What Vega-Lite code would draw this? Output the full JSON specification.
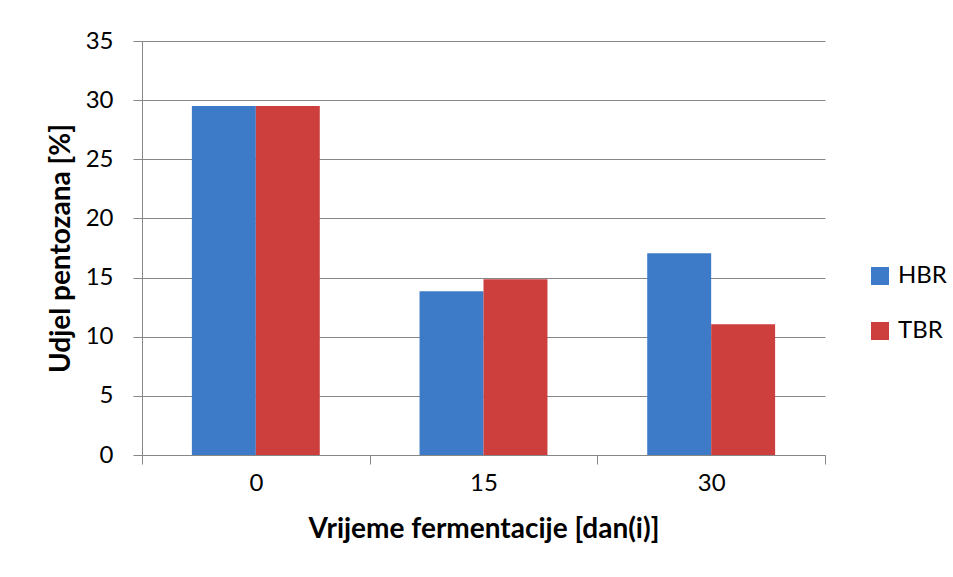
{
  "$schema": "https://vega.github.io/schema/vega-lite/v6.json",
  "width": 683,
  "height": 414,
  "autosize": {"type": "none"},
  "padding": {"left": 142, "top": 41, "right": 128, "bottom": 122},
  "background": "white",
  "config": {"view": {"stroke": null}, "font": "Lato"},
  "data": {
    "values": [
      {"day": "0", "series": "HBR", "value": 29.5},
      {"day": "0", "series": "TBR", "value": 29.5},
      {"day": "15", "series": "HBR", "value": 13.85},
      {"day": "15", "series": "TBR", "value": 14.85},
      {"day": "30", "series": "HBR", "value": 17.05},
      {"day": "30", "series": "TBR", "value": 11.05}
    ]
  },
  "mark": {"type": "bar"},
  "encoding": {
    "x": {
      "field": "day",
      "type": "nominal",
      "sort": ["0", "15", "30"],
      "scale": {"paddingInner": 0, "paddingOuter": 0},
      "axis": {
        "title": "Vrijeme fermentacije [dan(i)]",
        "labelAngle": 0,
        "tickBand": "extent",
        "domainColor": "#868686",
        "tickColor": "#868686",
        "tickSize": 9,
        "labelFontSize": 24,
        "labelPadding": 7,
        "labelColor": "black",
        "titleFontSize": 28,
        "titleFontWeight": "bold",
        "titlePadding": 20,
        "titleColor": "black"
      }
    },
    "xOffset": {
      "field": "series",
      "type": "nominal",
      "sort": ["HBR", "TBR"],
      "scale": {"paddingInner": 0, "paddingOuter": 0.78}
    },
    "y": {
      "field": "value",
      "type": "quantitative",
      "scale": {"domain": [0, 35]},
      "axis": {
        "title": "Udjel pentozana [%]",
        "values": [0, 5, 10, 15, 20, 25, 30, 35],
        "gridColor": "#868686",
        "domainColor": "#868686",
        "tickColor": "#868686",
        "tickSize": 9,
        "labelFontSize": 24,
        "labelPadding": 20,
        "labelColor": "black",
        "titleFontSize": 28,
        "titleFontWeight": "bold",
        "titlePadding": 10,
        "titleColor": "black"
      }
    },
    "color": {
      "field": "series",
      "type": "nominal",
      "scale": {"domain": ["HBR", "TBR"], "range": ["#3d7bc9", "#cc3f3d"]},
      "legend": {
        "title": null,
        "orient": "none",
        "legendX": 726,
        "legendY": 223,
        "symbolType": "square",
        "symbolSize": 324,
        "symbolStrokeWidth": 0,
        "labelFontSize": 24,
        "labelOffset": 6,
        "labelColor": "black",
        "rowPadding": 31
      }
    }
  }
}
